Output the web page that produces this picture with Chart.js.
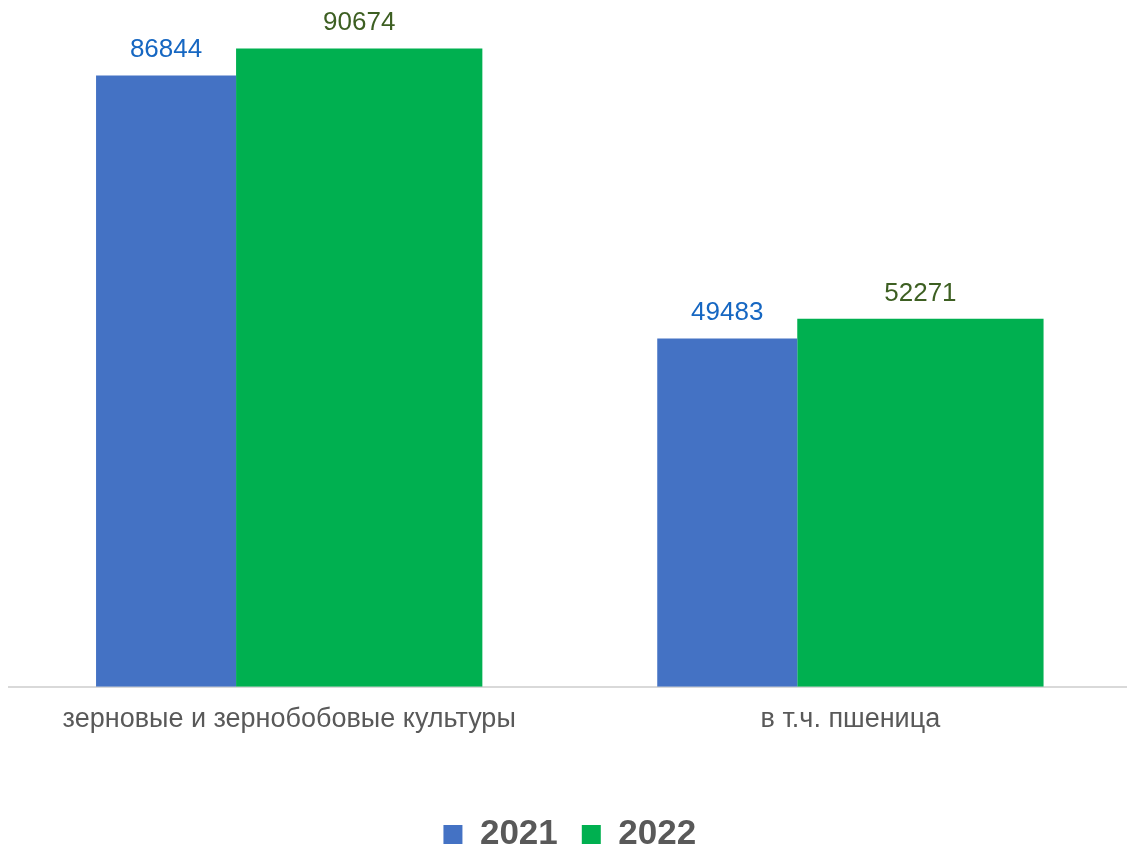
<!DOCTYPE html>
<html>
<head>
<meta charset="utf-8">
<script src="https://cdn.jsdelivr.net/npm/chart.js@4.4.0/dist/chart.umd.min.js"></script>
<style>
  html, body { margin: 0; padding: 0; background: #fff; overflow: hidden; }
  #wrap { width: 1131px; height: 848px; }
</style>
</head>
<body>
<div id="wrap"><canvas id="chart"></canvas></div>
<script>
/* ── Data ─────────────────────────────────────────────── */
const CATEGORIES  = ['зерновые и зернобобовые культуры', 'в т.ч. пшеница'];
const YEARS       = ['2021', '2022'];
const VALUES_2021 = [86844, 49483];
const VALUES_2022 = [90674, 52271];

const BAR_COLORS   = ['#4472c4', '#00b050'];
const LABEL_COLORS = ['#1667c2', '#3d5f22'];
const FONT = "'Liberation Sans', Arial, sans-serif";

/* Value labels above each bar */
const valueLabels = {
  id: 'valueLabels',
  afterDatasetsDraw(chart) {
    const { ctx } = chart;
    ctx.save();
    ctx.font = `26px ${FONT}`;
    ctx.textAlign = 'center';
    ctx.textBaseline = 'alphabetic';
    chart.data.datasets.forEach((ds, di) => {
      ctx.fillStyle = LABEL_COLORS[di];
      chart.getDatasetMeta(di).data.forEach((bar, i) => {
        ctx.fillText(String(ds.data[i]), bar.x, bar.y - 18);
      });
    });
    ctx.restore();
  },
};

new Chart(document.getElementById('chart'), {
  type: 'bar',
  data: {
    labels: CATEGORIES,
    datasets: [
      {
        label: YEARS[0],
        data: VALUES_2021,
        backgroundColor: BAR_COLORS[0],
        categoryPercentage: 0.8778,
        barPercentage: 0.5684,
      },
      {
        label: YEARS[1],
        data: VALUES_2022,
        backgroundColor: BAR_COLORS[1],
        categoryPercentage: 0.499,
        barPercentage: 1.759,
      },
    ],
  },
  options: {
    responsive: true,
    maintainAspectRatio: false,
    animation: false,
    layout: { padding: { top: 18, left: 8.6, right: 0, bottom: -14 } },
    plugins: {
      tooltip: { enabled: false },
      legend: {
        position: 'bottom',
        labels: {
          boxWidth: 19,
          boxHeight: 19,
          padding: 24,
          color: '#595959',
          font: { family: FONT, size: 35, weight: 'bold' },
        },
      },
    },
    scales: {
      x: {
        grid: { display: false },
        border: { display: true, color: '#d9d9d9', width: 2 },
        ticks: {
          color: '#595959',
          padding: 9,
          font: { family: FONT, size: 27 },
          maxRotation: 0,
        },
        afterFit: scale => { scale.height = 106.3; },
      },
      y: {
        display: false,
        min: 0,
        max: 95000,
      },
    },
  },
  plugins: [valueLabels],
});
</script>
</body>
</html>
